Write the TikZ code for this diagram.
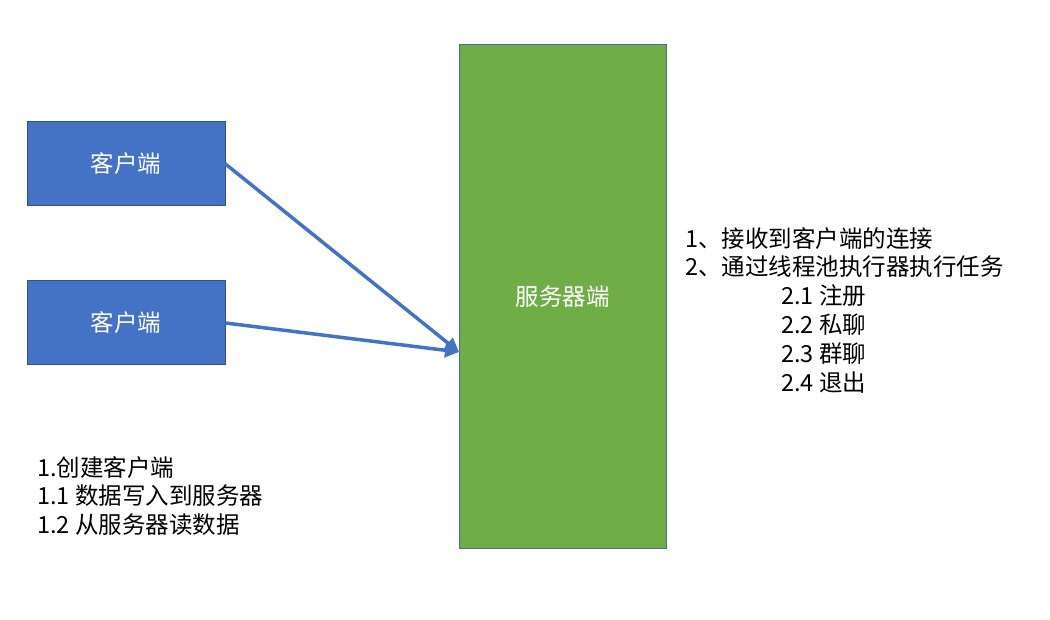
\documentclass[tikz,border=0pt]{standalone}
\usepackage{fontspec}
\setmainfont{Noto Sans CJK SC}
\usetikzlibrary{arrows.meta}
\definecolor{cblue}{HTML}{4472C4}
\definecolor{cblueb}{HTML}{2F528F}
\definecolor{cgreen}{HTML}{70AD47}
\definecolor{cgreenb}{HTML}{41719C}
\tikzset{
  client/.style={draw=cblueb, fill=cblue, line width=1pt, minimum width=198pt, minimum height=84pt, inner sep=0pt, text=white, font=\fontsize{23.5pt}{28pt}\selectfont},
  server/.style={draw=cgreenb, fill=cgreen, line width=1pt, minimum width=207pt, minimum height=503pt, inner sep=0pt, text=white, font=\fontsize{23.5pt}{28pt}\selectfont},
  link/.style={draw=cblue, line width=3.5pt, -{Triangle[length=14pt,width=14pt]}},
  note/.style={anchor=west, align=left, inner sep=0pt, text=black, font=\fontsize{23.5pt}{28.8pt}\selectfont}
}
\begin{document}
\begin{tikzpicture}[x=1pt,y=-1pt]
\useasboundingbox (0,0) rectangle (1050,620);
\node[client] (c1) at (126,164) {客户端};
\node[client] (c2) at (126,323) {客户端};
\node[server] (s) at (562.5,296.5) {};
\node[text=white, font=\fontsize{23.5pt}{28pt}\selectfont] (sl) at (562.5,297) {服务器端};
\coordinate (t) at (459,352);
\draw[link, shorten <=-1pt] (c1.east) -- (t);
\draw[link] (c2.east) -- (t);
\node[note] (n1) at (685,310) {1、接收到客户端的连接\\2、通过线程池执行器执行任务\\\hspace*{96pt}2.1 注册\\\hspace*{96pt}2.2 私聊\\\hspace*{96pt}2.3 群聊\\\hspace*{96pt}2.4 退出};
\node[note] (n2) at (37,496) {1.创建客户端\\1.1 数据写入到服务器\\1.2 从服务器读数据};
\end{tikzpicture}
\end{document}
